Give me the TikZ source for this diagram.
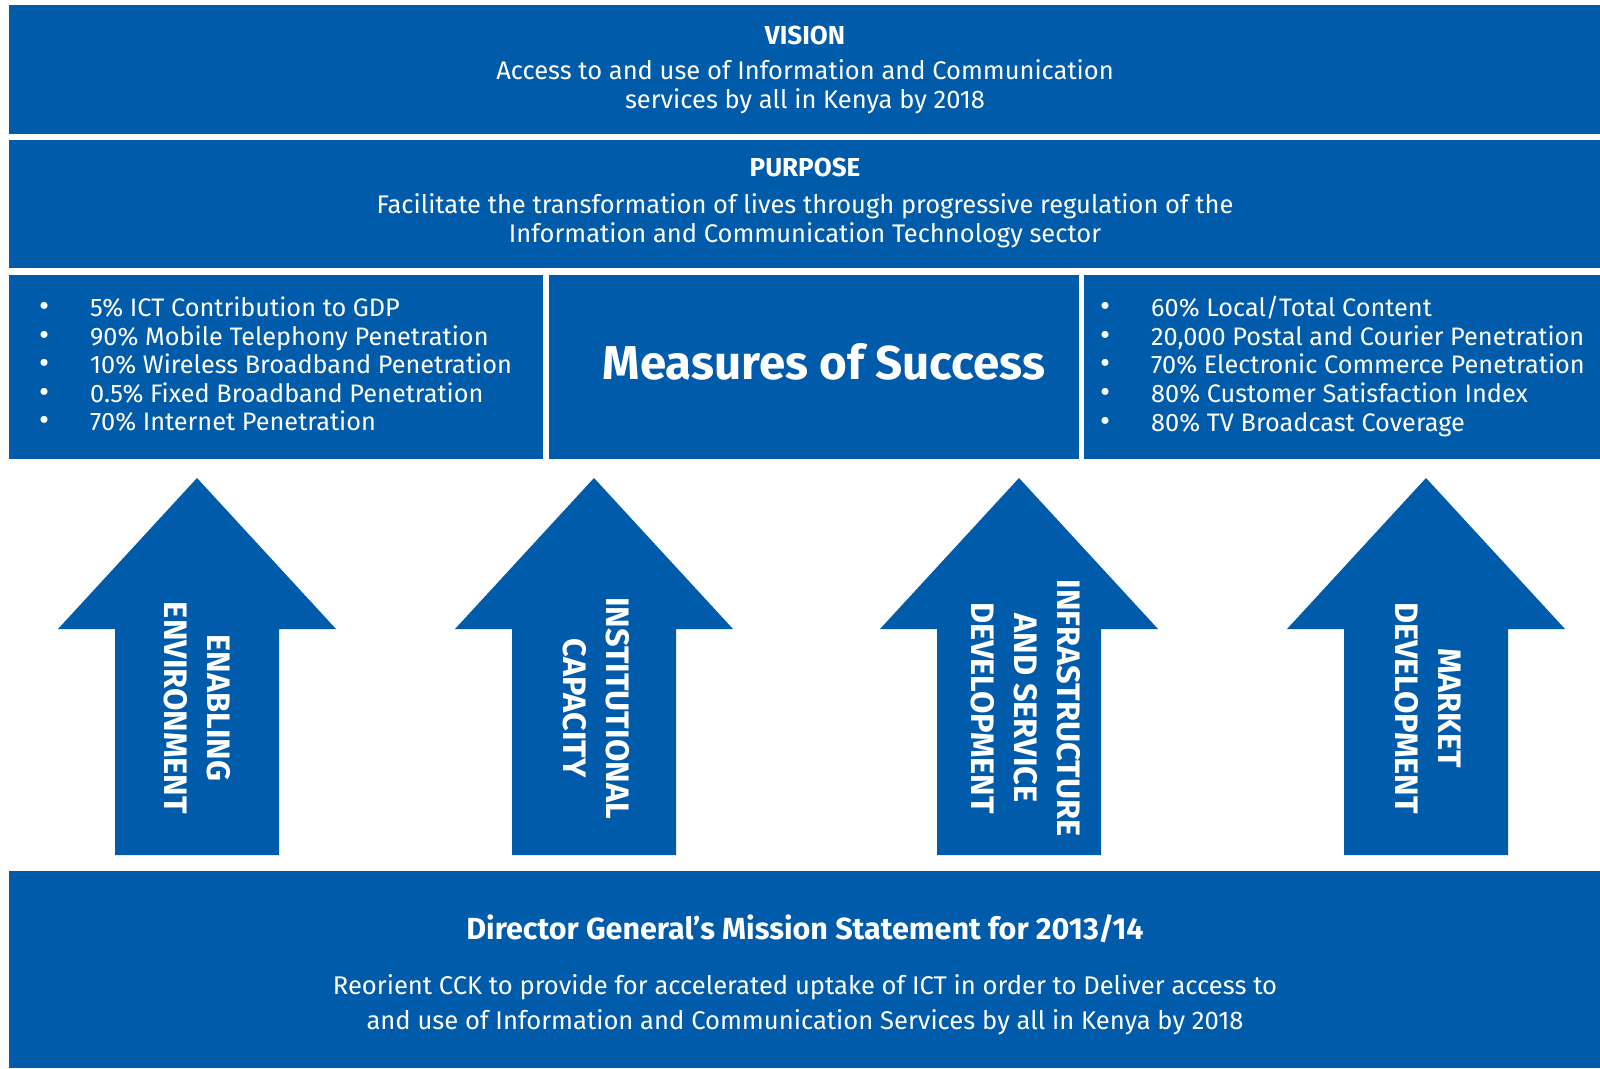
\documentclass[tikz,border=0pt]{standalone}
\usepackage{fontspec}
\setmainfont{Fira Sans}
\usetikzlibrary{positioning}

\definecolor{cckblue}{RGB}{0,91,170}
\newcommand{\kpidot}{{\fontsize{31}{28.6}\selectfont\textbullet}}

\begin{document}
\begin{tikzpicture}[
    x=1pt, y=-1pt,
    band/.style={rectangle, fill=cckblue, inner sep=0pt, anchor=north west},
    heading/.style={text=white, font=\fontsize{26}{29}\selectfont\bfseries, inner sep=0pt},
    body/.style={text=white, font=\fontsize{25.5}{29}\selectfont, align=center, inner sep=0pt},
    bullets/.style={text=white, font=\fontsize{25.3}{28.6}\selectfont, inner sep=0pt, anchor=west},
    pillar/.style={fill=cckblue},
    pillartext/.style={text=white, font=\fontsize{32.5}{43}\selectfont\bfseries, align=center, rotate=-90, inner sep=0pt}
  ]
    \useasboundingbox (0,0) rectangle (1600,1068);

    % --- Vision and purpose ---
    \node[band, minimum width=1591, minimum height=129] (vision) at (9,5) {};
    \node[heading] (visionhead) at (805,35) {VISION};
    \node[body] (visiontext) at (805,87) {Access to and use of Information and Communication\\services by all in Kenya by 2018};

    \node[band, minimum width=1591, minimum height=128] (purpose) at (9,140) {};
    \node[heading] (purposehead) at (805,167) {PURPOSE};
    \node[body] (purposetext) at (805,221) {Facilitate the transformation of lives through progressive regulation of the\\Information and Communication Technology sector};

    % --- Measures of success ---
    \node[band, minimum width=534, minimum height=184] (leftkpi) at (9,275) {};
    \node[band, minimum width=530, minimum height=184] (measures) at (549,275) {};
    \node[band, minimum width=516, minimum height=184] (rightkpi) at (1084,275) {};

    \node[bullets] (leftlist) at (39,368) {\begin{tabular}{@{}p{51pt}@{}l@{}}
      \kpidot & 5\% ICT Contribution to GDP\\
      \kpidot & 90\% Mobile Telephony Penetration\\
      \kpidot & 10\% Wireless Broadband Penetration\\
      \kpidot & 0.5\% Fixed Broadband Penetration\\
      \kpidot & 70\% Internet Penetration
    \end{tabular}};
    \node[text=white, font=\fontsize{47.5}{50}\selectfont\bfseries, inner sep=0pt] (measurestext) at (824,362) {Measures of Success};
    \node[bullets] (rightlist) at (1100,368) {\begin{tabular}{@{}p{51pt}@{}l@{}}
      \kpidot & 60\% Local/Total Content\\
      \kpidot & 20,000 Postal and Courier Penetration\\
      \kpidot & 70\% Electronic Commerce Penetration\\
      \kpidot & 80\% Customer Satisfaction Index\\
      \kpidot & 80\% TV Broadcast Coverage
    \end{tabular}};

    % --- Pillars ---
    \foreach \cx/\tx/\name/\txt in {
        197/197/enabling/{ENABLING\\ENVIRONMENT},
        594/596/institutional/{INSTITUTIONAL\\CAPACITY},
        1019/1026/infrastructure/{INFRASTRUCTURE\\AND SERVICE\\DEVELOPMENT},
        1426/1428/market/{MARKET\\DEVELOPMENT}} {
      \fill[pillar] (\cx,478) -- (\cx+139,629) -- (\cx+82,629) -- (\cx+82,855)
        -- (\cx-82,855) -- (\cx-82,629) -- (\cx-139,629) -- cycle;
      \node[pillartext] (\name) at (\tx,708) {\txt};
    }

    % --- Mission statement ---
    \node[band, minimum width=1591, minimum height=197] (mission) at (9,871) {};
    \node[heading, font=\fontsize{30.5}{32}\selectfont\bfseries] (missionhead) at (805,929) {Director General’s Mission Statement for 2013/14};
    \node[body, font=\fontsize{25.6}{35}\selectfont] (missiontext) at (805,1005) {Reorient CCK to provide for accelerated uptake of ICT in order to Deliver access to\\and use of Information and Communication Services by all in Kenya by 2018};

  \end{tikzpicture}
\end{document}
